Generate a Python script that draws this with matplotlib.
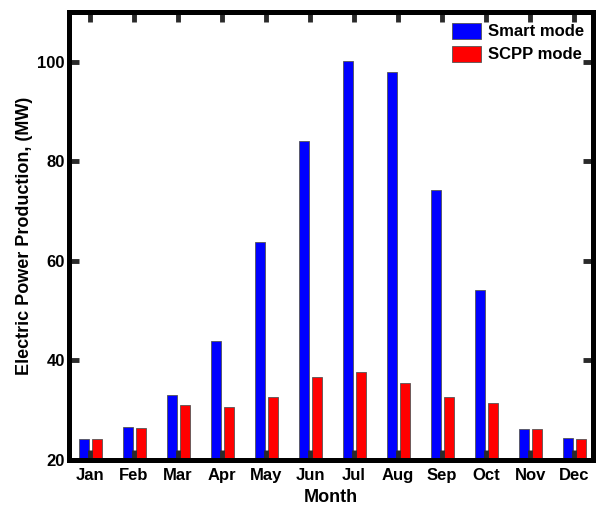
import matplotlib.pyplot as plt
import numpy as np

plt.rcParams['font.family'] = ['Liberation Sans', 'DejaVu Sans']
plt.rcParams['font.weight'] = 'bold'

months = ["Jan", "Feb", "Mar", "Apr", "May", "Jun", "Jul", "Aug", "Sep", "Oct", "Nov", "Dec"]
smart_mode = [24.2, 26.6, 33.1, 43.9, 63.8, 84.1, 100.2, 97.9, 74.2, 54.2, 26.2, 24.4]
scpp_mode = [24.2, 26.5, 31.0, 30.7, 32.7, 36.7, 37.7, 35.5, 32.7, 31.4, 26.2, 24.2]

fig = plt.figure(figsize=(6.04, 5.08), dpi=100)
# axes box in figure fractions, matched to the reference pixels
ax = fig.add_axes([69 / 604, 48 / 508, 524 / 604, 448 / 508])

x = np.arange(1, len(months) + 1)
w = 0.22
ax.bar(x - 0.14, smart_mode, w, color="#0000ff", edgecolor="#555555", linewidth=0.6, label="Smart mode")
ax.bar(x + 0.155, scpp_mode, w, color="#ff0000", edgecolor="#555555", linewidth=0.6, label="SCPP mode")

ax.set_xlim(0.52, 12.43)
ax.set_ylim(20, 110)
ax.set_xticks(x)
ax.set_xticklabels(months)
ax.set_yticks([20, 40, 60, 80, 100])

ax.tick_params(direction="in", length=7, width=3.5, top=True, right=True,
               labelsize=12, color="#2a2a2a")
ax.tick_params(axis="x", pad=6)
ax.tick_params(axis="y", pad=3)
for s in ax.spines.values():
    s.set_linewidth(3.6)
    s.set_color("#000000")

ax.set_xlabel("Month", fontsize=13, fontweight="bold", labelpad=4)
ax.set_ylabel("Electric Power Production, (MW)", fontsize=13, fontweight="bold", labelpad=3)

ax.legend(loc="upper left", bbox_to_anchor=(0.731, 0.976), frameon=False,
          fontsize=12, handlelength=1.75, handleheight=1.1,
          handletextpad=0.42, labelspacing=0.38, borderpad=0, borderaxespad=0)

fig.savefig("out.png", dpi=100)
